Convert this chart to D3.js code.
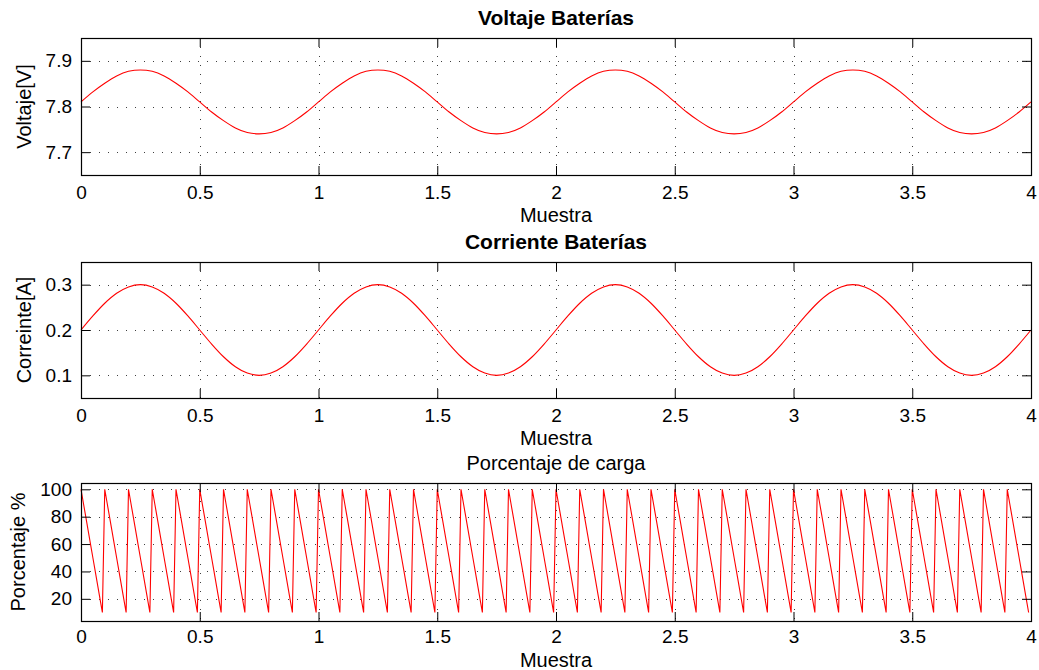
<!DOCTYPE html>
<html><head><meta charset="utf-8">
<script src="https://cdn.jsdelivr.net/npm/d3@7"></script>
<style>
body{margin:0;background:#fff}
svg{display:block}
text{font-family:"Liberation Sans",Arial,Helvetica,sans-serif;fill:#000}
</style>
</head><body>
<svg id="chart" width="1039" height="670"></svg>
<script>
// ---------- data ----------
const xTicks = [0, 0.5, 1, 1.5, 2, 2.5, 3, 3.5, 4];
const xTickLabels = ["0", "0.5", "1", "1.5", "2", "2.5", "3", "3.5", "4"];
const xLabel = "Muestra";

const sineStep = 0.05; // sample spacing of the voltage / current series

const voltageTicks = [7.7, 7.8, 7.9];
const voltage = [
  7.810, 7.832, 7.851, 7.867, 7.877, 7.880, 7.877, 7.867, 7.851, 7.832,
  7.810, 7.788, 7.769, 7.753, 7.743, 7.740, 7.743, 7.753, 7.769, 7.788,
  7.810, 7.832, 7.851, 7.867, 7.877, 7.880, 7.877, 7.867, 7.851, 7.832,
  7.810, 7.788, 7.769, 7.753, 7.743, 7.740, 7.743, 7.753, 7.769, 7.788,
  7.810, 7.832, 7.851, 7.867, 7.877, 7.880, 7.877, 7.867, 7.851, 7.832,
  7.810, 7.788, 7.769, 7.753, 7.743, 7.740, 7.743, 7.753, 7.769, 7.788,
  7.810, 7.832, 7.851, 7.867, 7.877, 7.880, 7.877, 7.867, 7.851, 7.832,
  7.810, 7.788, 7.769, 7.753, 7.743, 7.740, 7.743, 7.753, 7.769, 7.788,
  7.810
];

const currentTicks = [0.1, 0.2, 0.3];
const current = [
  0.200, 0.231, 0.259, 0.281, 0.295, 0.300, 0.295, 0.281, 0.259, 0.231,
  0.200, 0.169, 0.141, 0.119, 0.105, 0.100, 0.105, 0.119, 0.141, 0.169,
  0.200, 0.231, 0.259, 0.281, 0.295, 0.300, 0.295, 0.281, 0.259, 0.231,
  0.200, 0.169, 0.141, 0.119, 0.105, 0.100, 0.105, 0.119, 0.141, 0.169,
  0.200, 0.231, 0.259, 0.281, 0.295, 0.300, 0.295, 0.281, 0.259, 0.231,
  0.200, 0.169, 0.141, 0.119, 0.105, 0.100, 0.105, 0.119, 0.141, 0.169,
  0.200, 0.231, 0.259, 0.281, 0.295, 0.300, 0.295, 0.281, 0.259, 0.231,
  0.200, 0.169, 0.141, 0.119, 0.105, 0.100, 0.105, 0.119, 0.141, 0.169,
  0.200
];

const pctStep = 0.01; // sample spacing of the charge-percentage series
const percentTicks = [20, 40, 60, 80, 100];
const percent = [
  100,90,80,70,60,50,40,30,20,10, 100,90,80,70,60,50,40,30,20,10,
  100,90,80,70,60,50,40,30,20,10, 100,90,80,70,60,50,40,30,20,10,
  100,90,80,70,60,50,40,30,20,10, 100,90,80,70,60,50,40,30,20,10,
  100,90,80,70,60,50,40,30,20,10, 100,90,80,70,60,50,40,30,20,10,
  100,90,80,70,60,50,40,30,20,10, 100,90,80,70,60,50,40,30,20,10,
  100,90,80,70,60,50,40,30,20,10, 100,90,80,70,60,50,40,30,20,10,
  100,90,80,70,60,50,40,30,20,10, 100,90,80,70,60,50,40,30,20,10,
  100,90,80,70,60,50,40,30,20,10, 100,90,80,70,60,50,40,30,20,10,
  100,90,80,70,60,50,40,30,20,10, 100,90,80,70,60,50,40,30,20,10,
  100,90,80,70,60,50,40,30,20,10, 100,90,80,70,60,50,40,30,20,10,
  100,90,80,70,60,50,40,30,20,10, 100,90,80,70,60,50,40,30,20,10,
  100,90,80,70,60,50,40,30,20,10, 100,90,80,70,60,50,40,30,20,10,
  100,90,80,70,60,50,40,30,20,10, 100,90,80,70,60,50,40,30,20,10,
  100,90,80,70,60,50,40,30,20,10, 100,90,80,70,60,50,40,30,20,10,
  100,90,80,70,60,50,40,30,20,10, 100,90,80,70,60,50,40,30,20,10,
  100,90,80,70,60,50,40,30,20,10, 100,90,80,70,60,50,40,30,20,10,
  100,90,80,70,60,50,40,30,20,10, 100,90,80,70,60,50,40,30,20,10,
  100,90,80,70,60,50,40,30,20,10, 100,90,80,70,60,50,40,30,20,10,
  100,90,80,70,60,50,40,30,20,10, 100,90,80,70,60,50,40,30,20,10,
  100,90,80,70,60,50,40,30,20,10, 100,90,80,70,60,50,40,30,20,10
];

// ---------- layout ----------
const svg = d3.select("#chart");
const X0 = 81, X1 = 1031;
const x = d3.scaleLinear().domain([0, 4]).range([X0, X1]);
const TICK = 9;

const panels = [
  { top: 38, bottom: 175, domain: [7.65, 7.95], ticks: voltageTicks, fmt: d3.format(".1f"),
    title: "Voltaje Baterías", bold: true, titleY: 25, ylabel: "Voltaje[V]", ylabelX: 31,
    data: voltage, step: sineStep, curve: d3.curveMonotoneX, xPad: 11, xlabY: 222 },
  { top: 262, bottom: 398, domain: [0.05, 0.35], ticks: currentTicks, fmt: d3.format(".1f"),
    title: "Corriente Baterías", bold: true, titleY: 249, ylabel: "Correinte[A]", ylabelX: 31,
    data: current, step: sineStep, curve: d3.curveMonotoneX, xPad: 11, xlabY: 445 },
  { top: 483, bottom: 621, domain: [3.8, 104.6], ticks: percentTicks, fmt: d3.format("d"),
    title: "Porcentaje de carga", bold: false, titleY: 470, ylabel: "Porcentaje %", ylabelX: 25,
    data: percent, step: pctStep, curve: d3.curveLinear, xPad: 9, xlabY: 667 }
];

panels.forEach(p => {
  const y = d3.scaleLinear().domain(p.domain).range([p.bottom, p.top]);
  const g = svg.append("g");

  // grid
  const grid = g.append("g").attr("stroke", "#000").attr("stroke-width", 1)
    .attr("stroke-dasharray", "1,8").attr("opacity", 0.75);
  grid.selectAll("line.h").data(p.ticks).join("line")
    .attr("x1", X0).attr("x2", X1)
    .attr("y1", d => Math.round(y(d)) + 0.5).attr("y2", d => Math.round(y(d)) + 0.5);
  grid.selectAll("line.v").data(xTicks.slice(1, -1)).join("line")
    .attr("y1", p.top).attr("y2", p.bottom)
    .attr("x1", d => Math.round(x(d)) + 0.5).attr("x2", d => Math.round(x(d)) + 0.5);

  // series
  const line = d3.line().curve(p.curve)
    .x((d, i) => x(i * p.step)).y(d => y(d));
  g.append("path").datum(p.data)
    .attr("fill", "none").attr("stroke", "#ff0000").attr("stroke-width", 1.1)
    .attr("d", line);

  // axes (ticks inside)
  const ax = (sel, axis) => {
    sel.call(axis);
    sel.select(".domain").remove();
    sel.selectAll("text").attr("font-size", 19).attr("font-family", '"Liberation Sans",Arial,sans-serif');
    sel.selectAll("line").attr("stroke", "#000");
    return sel;
  };
  ax(g.append("g").attr("transform", `translate(0,${p.bottom})`),
     d3.axisBottom(x).tickValues(xTicks).tickFormat((d, i) => xTickLabels[i]).tickSize(-TICK).tickPadding(p.xPad));
  ax(g.append("g").attr("transform", `translate(0,${p.top})`),
     d3.axisTop(x).tickValues(xTicks).tickFormat("").tickSize(-TICK));
  ax(g.append("g").attr("transform", `translate(${X0},0)`),
     d3.axisLeft(y).tickValues(p.ticks).tickFormat(p.fmt).tickSize(-TICK).tickPadding(9));
  ax(g.append("g").attr("transform", `translate(${X1},0)`),
     d3.axisRight(y).tickValues(p.ticks).tickFormat("").tickSize(-TICK));

  // box
  g.append("rect").attr("x", X0 + 0.5).attr("y", p.top + 0.5)
    .attr("width", X1 - X0).attr("height", p.bottom - p.top)
    .attr("fill", "none").attr("stroke", "#000").attr("stroke-width", 1.2);

  // title
  g.append("text").attr("x", (X0 + X1) / 2).attr("y", p.titleY)
    .attr("text-anchor", "middle").attr("font-size", p.bold ? 21 : 20)
    .attr("font-weight", p.bold ? "bold" : "normal").text(p.title);

  // x label
  g.append("text").attr("x", (X0 + X1) / 2).attr("y", p.xlabY)
    .attr("text-anchor", "middle").attr("font-size", 20).text(xLabel);

  // y label
  g.append("text")
    .attr("transform", `translate(${p.ylabelX},${(p.top + p.bottom) / 2}) rotate(-90)`)
    .attr("text-anchor", "middle").attr("font-size", 20).text(p.ylabel);
});
</script>
</body></html>
